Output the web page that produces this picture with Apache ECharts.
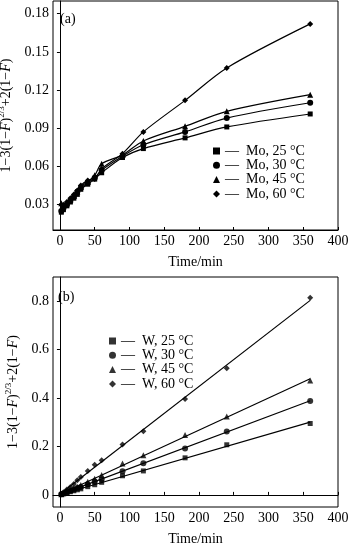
<!DOCTYPE html>
<html><head><meta charset="utf-8">
<script src="https://cdn.jsdelivr.net/npm/echarts@6/dist/echarts.min.js"></script>
<style>html,body{margin:0;padding:0;background:#fff}#c{width:350px;height:543px}</style>
</head><body><div id="c"></div>
<script>
const times = [2, 5, 10, 15, 20, 25, 30, 40, 50, 60, 90, 120, 180, 240, 360];
const xTicks = [0, 50, 100, 150, 200, 250, 300, 350, 400];
const yTicksA = [0.03, 0.06, 0.09, 0.12, 0.15, 0.18];
const yTicksB = [0, 0.2, 0.4, 0.6, 0.8];

const moNames = ['Mo, 25 °C', 'Mo, 30 °C', 'Mo, 45 °C', 'Mo, 60 °C'];
const mo25 = [0.024, 0.026, 0.029, 0.032, 0.035, 0.038, 0.042, 0.046, 0.050, 0.055, 0.067, 0.074, 0.0824, 0.091, 0.1012];
const mo30 = [0.025, 0.027, 0.030, 0.033, 0.036, 0.040, 0.043, 0.047, 0.051, 0.057, 0.068, 0.077, 0.0871, 0.098, 0.110];
const mo45 = [0.031, 0.030, 0.031, 0.034, 0.037, 0.040, 0.044, 0.048, 0.053, 0.062, 0.069, 0.080, 0.0915, 0.1033, 0.1164];
const mo60 = [0.030, 0.029, 0.032, 0.035, 0.038, 0.041, 0.045, 0.049, 0.050, 0.058, 0.070, 0.0871, 0.1119, 0.1374, 0.172];

const wNames = ['W, 25 °C', 'W, 30 °C', 'W, 45 °C', 'W, 60 °C'];
const w25 = [0.002, 0.005, 0.009, 0.013, 0.017, 0.021, 0.025, 0.034, 0.042, 0.052, 0.079, 0.099, 0.153, 0.207, 0.295];
const w30 = [0.003, 0.006, 0.012, 0.017, 0.022, 0.028, 0.033, 0.044, 0.055, 0.065, 0.098, 0.131, 0.192, 0.262, 0.388];
const w45 = [0.003, 0.007, 0.014, 0.020, 0.027, 0.034, 0.041, 0.054, 0.067, 0.082, 0.130, 0.164, 0.247, 0.324, 0.472];
const w60 = [0.004, 0.011, 0.022, 0.033, 0.045, 0.060, 0.074, 0.099, 0.124, 0.143, 0.208, 0.263, 0.396, 0.523, 0.814];

const symbols = ['rect', 'circle', 'triangle', 'diamond'];
const symSizes = [5, 6, 6, 6];
const FONT = 'Liberation Serif';

function pairs(xs, ys) { return xs.map((x, i) => [x, ys[i]]); }
function fit(xs, ys) {
  const n = xs.length;
  const mx = xs.reduce((a, b) => a + b, 0) / n;
  const my = ys.reduce((a, b) => a + b, 0) / n;
  let sxy = 0, sxx = 0;
  for (let i = 0; i < n; i++) { sxy += (xs[i] - mx) * (ys[i] - my); sxx += (xs[i] - mx) ** 2; }
  const b = sxy / sxx, a = my - b * mx;
  const x0 = xs[0], x1 = xs[n - 1];
  return [[x0, a + b * x0], [x1, a + b * x1]];
}

const yName = '{n|1−3(1−}{i|F}{n|)}{s|2/3}{n|+2(1−}{i|F}{n|)}';
const yRich = {
  n: { fontFamily: FONT, fontSize: 14, color: '#000', lineHeight: 16, verticalAlign: 'bottom' },
  i: { fontFamily: FONT, fontSize: 14, fontStyle: 'italic', color: '#000', lineHeight: 16, verticalAlign: 'bottom' },
  s: { fontFamily: FONT, fontSize: 9, color: '#000', lineHeight: 10, padding: [0, 0, 7, 0], verticalAlign: 'bottom' }
};

function xAxis(gi) {
  return {
    gridIndex: gi, type: 'value', min: -10, max: 400,
    name: 'Time/min', nameLocation: 'middle', nameGap: 25,
    nameTextStyle: { fontFamily: FONT, fontSize: 14, color: '#000' },
    axisLine: { lineStyle: { color: '#000', width: 1 } },
    axisTick: { inside: true, length: 3, customValues: xTicks, lineStyle: { color: '#000' } },
    axisLabel: { customValues: xTicks, fontFamily: FONT, fontSize: 14, color: '#000', margin: 4 },
    splitLine: { show: false }
  };
}
function yAxis(gi, min, max, ticks, fmt) {
  return {
    gridIndex: gi, type: 'value', min: min, max: max,
    name: yName, nameLocation: 'middle', nameRotate: 90, nameGap: 32,
    nameTextStyle: { rich: yRich },
    axisLine: { lineStyle: { color: '#000', width: 1 } },
    axisTick: { inside: false, length: 3, customValues: ticks, lineStyle: { color: '#000' } },
    axisLabel: { customValues: ticks, formatter: fmt, fontFamily: FONT, fontSize: 14, color: '#000', margin: 4 },
    splitLine: { show: false }
  };
}

const moData = [mo25, mo30, mo45, mo60];
const wData = [w25, w30, w45, w60];
const series = [];
moData.forEach((d, k) => {
  series.push({
    name: moNames[k], type: 'line', xAxisIndex: 0, yAxisIndex: 0, smooth: 0.3,
    data: pairs(times, d), symbol: symbols[k], symbolSize: symSizes[k], showSymbol: true,
    lineStyle: { color: '#000', width: 1.2 }, itemStyle: { color: '#000' }
  });
});
wData.forEach((d, k) => {
  series.push({
    name: wNames[k], type: 'scatter', xAxisIndex: 1, yAxisIndex: 1,
    data: pairs(times, d), symbol: symbols[k], symbolSize: symSizes[k], itemStyle: { color: '#000' }
  });
  series.push({
    name: wNames[k] + ' fit', type: 'line', xAxisIndex: 1, yAxisIndex: 1,
    data: fit(times, d), symbol: 'none', lineStyle: { color: '#000', width: 1.2 }
  });
});

function legend(names, left, top) {
  return {
    orient: 'vertical', left: left, top: top, itemWidth: 7, itemHeight: 7, itemGap: 0.3,
    data: names.map((n, k) => ({ name: n, icon: symbols[k] })),
    formatter: n => '—  ' + n,
    textStyle: { fontFamily: FONT, fontSize: 14, color: '#000', lineHeight: 14 },
    itemStyle: { color: '#000' }, inactiveColor: '#000', selectedMode: false, padding: 0
  };
}

const chart = echarts.init(document.getElementById('c'), null, { renderer: 'canvas' });
chart.setOption({
  animation: false,
  backgroundColor: '#fff',
  grid: [
    { left: 53, right: 12, top: 1, height: 229, show: true, borderColor: '#000', borderWidth: 1, containLabel: false, outerBoundsMode: 'none' },
    { left: 53, right: 12, top: 277, height: 230, show: true, borderColor: '#000', borderWidth: 1, containLabel: false, outerBoundsMode: 'none' }
  ],
  xAxis: [xAxis(0), xAxis(1)],
  yAxis: [
    yAxis(0, 0.01, 0.19, yTicksA, v => v.toFixed(2)),
    yAxis(1, -0.05, 0.9, yTicksB, v => (v === 0 ? '0' : v.toFixed(1)))
  ],
  legend: [legend(moNames, 213, 144), legend(wNames, 109, 334)],
  graphic: [
    { type: 'text', left: 60, top: 12, style: { text: '(a)', fontFamily: FONT, fontSize: 14, fill: '#000' } },
    { type: 'text', left: 58, top: 290, style: { text: '(b)', fontFamily: FONT, fontSize: 14, fill: '#000' } }
  ],
  series: series
});
</script></body></html>
